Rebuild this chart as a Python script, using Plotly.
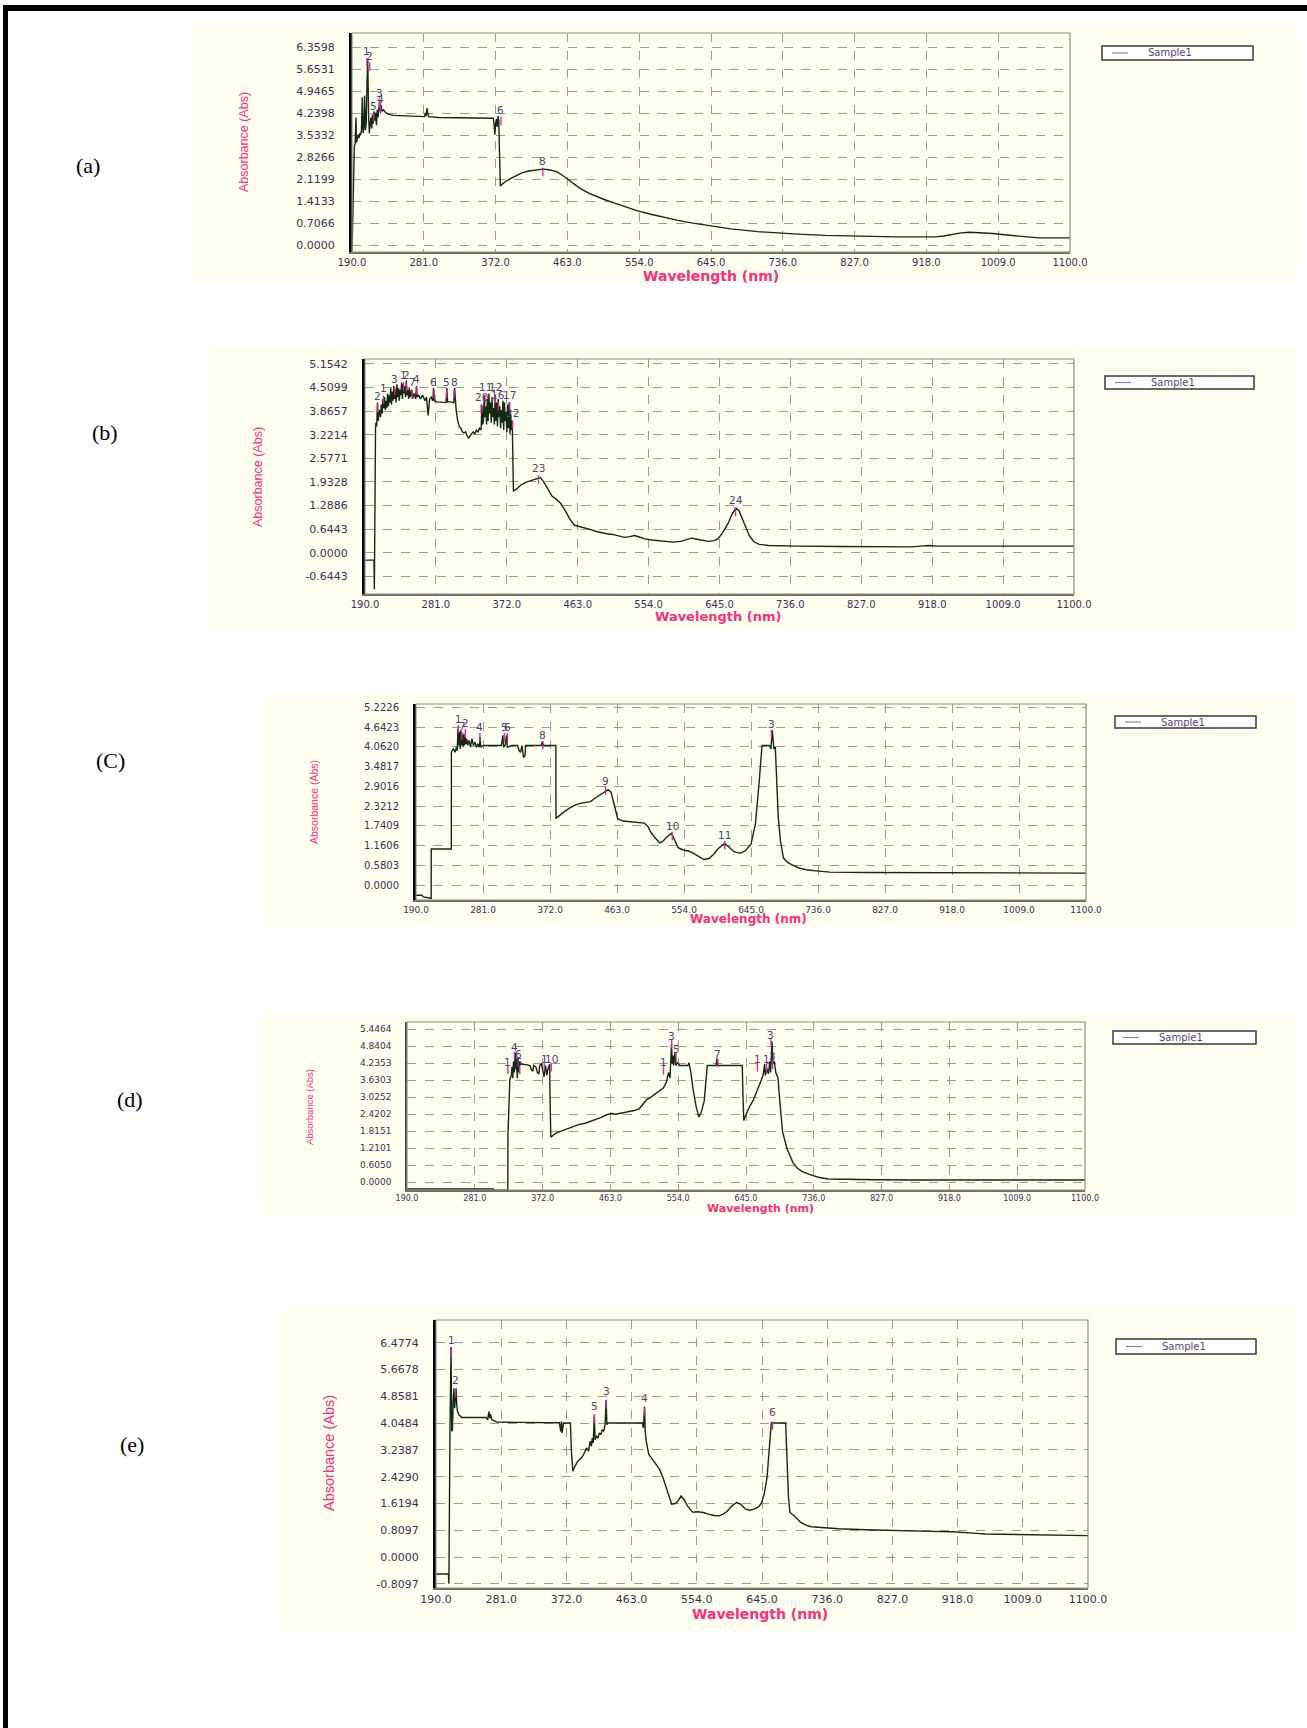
import plotly.graph_objects as go

W, H = 1307, 1728

# ---------------- data ----------------
x_tick_labels = ["190.0", "281.0", "372.0", "463.0", "554.0", "645.0",
                 "736.0", "827.0", "918.0", "1009.0", "1100.0"]

# (a)
a_wl = [190, 190.5, 191, 192, 193, 194, 195, 195.8, 197, 198, 199, 200, 201, 202, 203, 204, 205, 206, 207, 208,
        209, 210, 211, 212, 213, 214, 215, 216, 217, 218, 219, 220, 221, 222, 223, 224, 225, 226, 227, 228,
        230, 233, 237, 242, 250, 260, 275, 282, 283, 284, 285, 286, 287, 300, 330, 360, 369, 370, 371, 372,
        373, 374, 375, 376, 377, 378, 380, 385, 392, 400, 406, 414, 421, 428, 432, 440, 450, 458, 464, 472,
        479, 490, 500, 508, 520, 535, 552, 570, 585, 602, 620, 646, 670, 704, 730, 755, 790, 820, 850, 878,
        905, 929, 940, 951, 962, 973, 985, 1002, 1020, 1031, 1045, 1060, 1080, 1100]
a_abs = [-0.2, 0.5, 1.5, 2.6, 3.2, 3.25, 4.1, 3.3, 3.5, 3.55, 3.45, 3.6, 3.55, 3.7, 4.75, 3.6, 3.75, 4.8, 3.7, 3.9,
         5.2, 5.95, 4.2, 3.6, 3.9, 4.1, 3.75, 4.2, 3.9, 4.3, 4.0, 4.25, 3.85, 4.35, 4.1, 4.45, 4.65, 4.3, 4.5, 4.3,
         4.35, 4.25, 4.2, 4.17, 4.16, 4.15, 4.14, 4.13, 4.25, 4.15, 4.4, 4.2, 4.13, 4.1, 4.09, 4.08, 4.08, 3.9, 3.55, 3.9,
         4.05, 3.8, 4.15, 4.0, 2.8, 1.9, 1.95, 2.05, 2.15, 2.25, 2.33, 2.38, 2.41, 2.43, 2.44, 2.42, 2.35, 2.22, 2.1, 1.95,
         1.82, 1.67, 1.55, 1.48, 1.37, 1.24, 1.1, 0.98, 0.89, 0.8, 0.71, 0.6, 0.52, 0.43, 0.38, 0.35, 0.31, 0.29, 0.28, 0.26,
         0.26, 0.26, 0.29, 0.34, 0.39, 0.41, 0.40, 0.37, 0.32, 0.30, 0.26, 0.23, 0.23, 0.23]
a_peak_wl = [208.9, 212.5, 224.9, 226.3, 217.6, 378.8, 431.9]
a_peak_abs = [6.23, 6.09, 4.89, 4.71, 4.46, 4.34, 2.70]
a_peak_lbl = ["1", "2", "3", "4", "5", "6", "8"]
a_yticks = ["0.0000", "0.7066", "1.4133", "2.1199", "2.8266", "3.5332", "4.2398", "4.9465", "5.6531", "6.3598"]

# (b)
b_wl = [190, 200, 201.5, 202, 202.5, 203.5, 204, 205, 206, 207, 208, 209, 210, 211, 212, 213, 214, 215, 216, 217,
        218, 219, 220, 221, 222, 223, 224, 225, 226, 227, 228, 229, 230, 231, 232, 233, 234, 235, 236, 237,
        238, 239, 240, 241, 242, 243, 244, 245, 246, 247, 248, 250, 251, 253, 255, 256, 257, 259, 261, 264,
        267, 269, 271, 273, 275, 277, 278, 279, 282, 290, 294, 295, 296, 300, 304, 305, 306, 307, 309, 311,
        313, 315, 317, 319, 321, 323, 325, 327, 329, 331, 333, 335, 337, 339, 340, 341, 342, 343, 344, 345,
        346, 347, 348, 349, 350, 351, 352, 353, 354, 355, 356, 357, 358, 359, 360, 361, 362, 363, 364, 365,
        366, 367, 368, 369, 370, 371, 372, 373, 374, 375, 376, 377, 378, 379, 380, 380.5, 385, 390, 397, 404,
        410, 415, 419, 422, 426, 430, 436, 441, 447, 453, 459, 465, 470, 474, 480, 487, 493, 500, 508, 515,
        523, 530, 536, 542, 549, 558, 568, 577, 586, 595, 603, 609, 616, 624, 631, 638, 643, 649, 656, 661,
        666, 670, 674, 678, 683, 689, 696, 708, 725, 745, 800, 850, 892, 903, 914, 925, 936, 950, 980, 1010,
        1040, 1070, 1100]
b_abs = [-0.2, -0.2, -0.2, -1.0, 1.27, 3.4, 3.55, 3.45, 4.1, 3.6, 3.8, 3.9, 3.7, 4.05, 3.8, 4.2, 3.95, 4.25, 3.9, 4.15,
         3.95, 4.35, 4.0, 4.3, 4.1, 4.5, 4.05, 4.4, 4.15, 4.55, 4.2, 4.45, 4.1, 4.6, 4.25, 4.5, 4.15, 4.45, 4.3, 4.65,
         4.2, 4.6, 4.35, 4.55, 4.25, 4.7, 4.3, 4.45, 4.2, 4.5, 4.25, 4.45, 4.2, 4.35, 4.2, 4.55, 4.25, 4.3, 4.2, 4.3,
         4.15, 4.25, 3.75, 4.2, 4.25, 4.15, 4.5, 4.15, 4.12, 4.12, 4.1, 4.5, 4.12, 4.12, 4.1, 4.5, 4.1, 3.9, 3.6, 3.45,
         3.4, 3.3, 3.27, 3.3, 3.2, 3.12, 3.2, 3.25, 3.3, 3.25, 3.35, 3.3, 3.4, 3.35, 4.05, 3.5, 3.6, 4.3, 3.7, 4.0,
         3.5, 4.2, 3.6, 4.35, 3.8, 4.1, 3.55, 4.25, 3.7, 3.95, 3.5, 4.3, 3.6, 4.1, 3.45, 4.2, 3.7, 4.0, 3.4, 3.9,
         3.55, 4.15, 3.35, 4.1, 3.6, 3.85, 3.3, 4.05, 3.4, 4.1, 3.25, 3.8, 3.35, 3.6, 2.5, 1.68, 1.75, 1.85, 1.93, 1.98,
         2.03, 2.05, 1.95, 1.85, 1.7, 1.55, 1.45, 1.35, 1.15, 0.92, 0.75, 0.72, 0.7, 0.68, 0.63, 0.58, 0.55, 0.52, 0.5, 0.46,
         0.42, 0.44, 0.47, 0.43, 0.38, 0.35, 0.33, 0.31, 0.29, 0.31, 0.37, 0.4, 0.37, 0.33, 0.31, 0.33, 0.38, 0.55, 0.8, 1.05,
         1.22, 1.15, 0.95, 0.72, 0.48, 0.3, 0.23, 0.2, 0.19, 0.18, 0.17, 0.16, 0.16, 0.18, 0.2, 0.18, 0.18, 0.18, 0.19, 0.2,
         0.2, 0.19, 0.18]
b_peak_wl = [206.2, 213.6, 228.3, 239.4, 243.1, 250.5, 256.4, 278.5, 294.7, 304.3, 339.0, 344.1, 357.4, 361.0, 375.8, 379.5, 412.7, 665.6]
b_peak_abs = [4.27, 4.50, 4.74, 4.86, 4.84, 4.65, 4.74, 4.65, 4.65, 4.65, 4.25, 4.52, 4.52, 4.32, 4.32, 3.82, 2.32, 1.44]
b_peak_lbl = ["2", "1", "3", "1", "2", "7", "4", "6", "5", "8", "20", "11", "12", "16", "17", "22", "23", "24"]
b_yticks = ["-0.6443", "0.0000", "0.6443", "1.2886", "1.9328", "2.5771", "3.2214", "3.8657", "4.5099", "5.1542"]

# (C)
c_wl = [190, 198, 200, 208, 210.6, 210.7, 238, 238.1, 241, 243, 245, 246, 247, 248, 249, 250, 251, 252, 253, 254,
        255, 256, 257, 258, 259, 260, 262, 264, 266, 268, 270, 272, 274, 276, 277, 278, 281, 290, 300, 306,
        308, 309, 311, 313, 314, 320, 328, 330, 332, 334, 336, 338, 339, 345, 355, 360, 361.5, 363, 370, 380,
        380.1, 385, 391, 400, 406, 413, 420, 427, 433, 440, 447, 451, 455, 459, 464, 471, 479, 490, 500, 505,
        509, 515, 521, 526, 531, 537, 541, 546, 553, 560, 567, 574, 581, 588, 594, 601, 609, 615, 622, 630,
        637, 645, 651, 656, 660, 670, 672, 674, 676, 678, 680, 682, 685, 689, 694, 700, 710, 722, 737, 752,
        800, 850, 899, 950, 1000, 1050, 1100]
c_abs = [-0.3, -0.3, -0.35, -0.39, -0.39, 1.06, 1.06, 3.92, 4.0, 3.9, 4.05, 3.95, 4.6, 4.1, 4.5, 4.0, 4.55, 4.1, 4.4, 4.05,
         4.45, 4.1, 4.35, 4.15, 4.3, 4.1, 4.25, 4.05, 4.3, 4.1, 4.2, 4.05, 4.15, 4.05, 4.35, 4.05, 4.1, 4.1, 4.1, 4.1,
         4.4, 4.05, 4.1, 4.4, 4.05, 4.1, 4.1, 3.95, 3.9, 4.1, 3.75, 3.8, 4.1, 4.1, 4.1, 4.1, 4.22, 4.1, 4.1, 4.1,
         1.96, 2.05, 2.15, 2.28, 2.35, 2.4, 2.42, 2.45, 2.55, 2.65, 2.76, 2.8, 2.72, 2.4, 1.95, 1.88, 1.86, 1.85, 1.82, 1.72,
         1.55, 1.38, 1.24, 1.3, 1.42, 1.52, 1.35, 1.1, 1.03, 1.0, 0.93, 0.83, 0.75, 0.78, 0.9, 1.08, 1.22, 1.12, 0.98, 0.93,
         1.0, 1.2, 1.8, 3.0, 4.1, 4.1, 4.0, 4.55, 4.0, 4.06, 3.0, 2.0, 1.3, 0.8, 0.68, 0.6, 0.5, 0.44, 0.41, 0.38,
         0.37, 0.37, 0.37, 0.36, 0.36, 0.35, 0.35]
c_peak_wl = [247.4, 257.0, 252.5, 276.8, 309.9, 314.3, 362.2, 447.5, 538.0, 609.4, 672.6]
c_peak_abs = [4.87, 4.75, 4.67, 4.63, 4.63, 4.63, 4.40, 3.07, 1.73, 1.46, 4.72]
c_peak_lbl = ["1", "2", "7", "4", "5", "6", "8", "9", "10", "11", "3"]
c_yticks = ["0.0000", "0.5803", "1.1606", "1.7409", "2.3212", "2.9016", "3.4817", "4.0620", "4.6423", "5.2226"]

# (d)
d_wl = [190, 306, 306.5, 325.3, 325.5, 328, 330, 331, 332, 333, 334, 335.5, 336.5, 337, 338, 339, 340, 341, 342, 346,
        350, 355, 357, 359, 360, 363, 365, 367, 368, 370.5, 372, 374, 376, 377.6, 379, 381.5, 382, 383, 390, 400,
        410, 420, 429, 440, 450, 458, 465, 470, 476, 485, 495, 502, 508, 512, 516, 521, 526, 530, 534, 538,
        541, 543, 545, 546, 547, 548, 549.5, 551, 553, 556, 563, 567, 568.5, 571, 574, 578, 581.7, 585, 589, 591,
        593, 605, 606, 607, 620, 630, 640, 641, 642, 645, 650, 654.5, 660, 665, 668, 670, 671, 673, 675, 677,
        678, 679, 680, 681, 683, 685, 688, 690, 694, 700, 708, 714, 720, 730, 742, 755, 778, 820, 865, 950,
        1020, 1100]
d_abs = [-0.24, -0.24, -0.28, -0.28, 1.67, 3.64, 3.8, 4.1, 3.7, 4.3, 3.9, 4.6, 4.0, 4.4, 3.7, 4.45, 3.9, 4.3, 4.2, 4.2,
         4.18, 4.15, 4.0, 3.95, 4.15, 4.1, 3.9, 3.85, 4.15, 4.2, 4.0, 3.75, 4.15, 3.8, 4.0, 4.2, 3.0, 1.6, 1.75, 1.85,
         1.95, 2.05, 2.1, 2.2, 2.3, 2.4, 2.45, 2.42, 2.45, 2.5, 2.55, 2.62, 2.8, 2.95, 3.0, 3.1, 3.2, 3.28, 3.35, 3.55,
         3.9, 3.7, 4.9, 4.2, 4.5, 4.15, 4.6, 4.15, 4.25, 4.15, 4.15, 4.15, 4.25, 3.9, 3.3, 2.7, 2.32, 2.5, 2.9, 3.5,
         4.15, 4.15, 4.4, 4.15, 4.15, 4.15, 4.15, 3.0, 2.2, 2.4, 2.7, 2.9, 3.3, 3.6, 3.8, 4.2, 3.8, 4.05, 3.85, 4.3,
         3.9, 4.6, 5.0, 4.2, 4.3, 3.9, 3.7, 3.0, 1.8, 1.2, 0.7, 0.5, 0.39, 0.28, 0.18, 0.12, 0.1, 0.09, 0.08, 0.08,
         0.08, 0.08]
d_peak_wl = [334.1, 339.2, 325.4, 341.4, 374.2, 383.6, 545.3, 551.1, 534.3, 607.1, 660.3, 672.7, 680.7, 678.5]
d_peak_abs = [4.79, 4.57, 4.29, 4.29, 4.38, 4.38, 5.21, 4.73, 4.27, 4.55, 4.38, 4.38, 4.47, 5.24]
d_peak_lbl = ["4", "6", "1", "5", "1", "10", "3", "5", "1", "7", "1", "1", "3", "3"]
d_yticks = ["0.0000", "0.6050", "1.2101", "1.8151", "2.4202", "3.0252", "3.6303", "4.2353", "4.8404", "5.4464"]

# (e)
e_wl = [190, 207.4, 208, 208.7, 209.5, 211, 212, 213, 214, 215, 216, 217, 218, 219, 220, 222, 226, 240, 260, 262,
        263, 264, 265, 266, 268, 272, 275.5, 300, 330, 362, 363, 364, 365, 366, 368, 370, 377.6, 379, 381, 384,
        388, 393, 396, 400, 403, 405, 407, 408, 409.5, 411, 412, 414, 416, 418, 420, 422, 424, 426, 427.5, 428.5,
        430, 478, 479.5, 481, 482, 483.5, 487, 494, 502, 506, 510, 515, 519, 524, 528, 532, 536, 541, 548, 555,
        563, 570, 578, 585, 591, 596, 603, 609.5, 615, 622, 628, 634, 640, 644, 648, 652, 655, 658, 678, 680,
        682, 684, 690, 699, 707, 714, 730, 752, 790, 828, 860, 880, 910, 933.5, 945, 956, 1000, 1032, 1060, 1100]
e_abs = [-0.51, -0.51, -0.8, 3.79, 3.85, 6.35, 3.8, 3.85, 4.7, 5.1, 4.5, 4.7, 5.1, 4.6, 4.4, 4.3, 4.22, 4.22, 4.22, 4.15,
         4.35, 4.4, 4.2, 4.32, 4.15, 4.1, 4.08, 4.07, 4.07, 4.06, 3.95, 3.8, 4.1, 3.75, 4.05, 4.05, 4.05, 3.2, 2.6, 2.75,
         2.9, 3.0, 3.1, 3.3, 3.2, 3.5, 3.35, 3.6, 3.45, 4.3, 3.55, 3.65, 3.6, 3.75, 3.7, 3.85, 3.8, 4.0, 4.75, 4.0,
         4.05, 4.05, 3.9, 4.55, 3.8, 3.5, 3.1, 2.9, 2.65, 2.45, 2.2, 1.85, 1.6, 1.62, 1.7, 1.85, 1.75, 1.55, 1.36, 1.37,
         1.35, 1.3, 1.26, 1.25, 1.3, 1.38, 1.55, 1.65, 1.6, 1.45, 1.42, 1.45, 1.52, 1.62, 1.9, 2.4, 3.2, 4.05, 4.05, 2.8,
         1.8, 1.35, 1.25, 1.05, 0.96, 0.92, 0.89, 0.86, 0.83, 0.8, 0.79, 0.78, 0.77, 0.75, 0.72, 0.7, 0.69, 0.68, 0.66, 0.65]
e_peak_wl = [211.2, 217.2, 427.5, 410.9, 481.2, 659.7]
e_peak_abs = [6.56, 5.35, 5.02, 4.58, 4.80, 4.38]
e_peak_lbl = ["1", "2", "3", "5", "4", "6"]
e_yticks = ["-0.8097", "0.0000", "0.8097", "1.6194", "2.4290", "3.2387", "4.0484", "4.8581", "5.6678", "6.4774"]

series_name = "Sample1"
panel_tags = ["(a)", "(b)", "(C)", "(d)", "(e)"]

# ---------------- layout (pixel geometry) ----------------
panels = [
    dict(wl=a_wl, ab=a_abs, pw=a_peak_wl, pa=a_peak_abs, pl=a_peak_lbl, yt=a_yticks,
         bg=(194, 22, 1298, 284), plot=(352, 33, 1070, 252), yr=(-0.225, 6.82), fs=10, yfs_t=11, tfs=14,
         leg=(1102, 46, 1253, 60), tag=(88, 165), ylab=(244, 142, 12.5), xlab=(711, 276),
         leftcol="#000000", leftw=3),
    dict(wl=b_wl, ab=b_abs, pw=b_peak_wl, pa=b_peak_abs, pl=b_peak_lbl, yt=b_yticks,
         bg=(209, 347, 1296, 628), plot=(365, 359, 1074, 594), yr=(-1.126, 5.29), fs=10, yfs_t=11, tfs=13,
         leg=(1105, 376, 1254, 389), tag=(105, 432), ylab=(258, 477, 12.5), xlab=(718, 617),
         leftcol="#000000", leftw=3),
    dict(wl=c_wl, ab=c_abs, pw=c_peak_wl, pa=c_peak_abs, pl=c_peak_lbl, yt=c_yticks,
         bg=(264, 694, 1296, 926), plot=(416, 704, 1086, 900), yr=(-0.44, 5.32), fs=9, yfs_t=10, tfs=12,
         leg=(1115, 716, 1256, 728), tag=(110, 760), ylab=(314, 802, 10.5), xlab=(749, 919),
         leftcol="#000000", leftw=3),
    dict(wl=d_wl, ab=d_abs, pw=d_peak_wl, pa=d_peak_abs, pl=d_peak_lbl, yt=d_yticks,
         bg=(260, 1014, 1296, 1216), plot=(407, 1022, 1085, 1190), yr=(-0.273, 5.695), fs=8, yfs_t=9, tfs=11,
         leg=(1113, 1031, 1256, 1044), tag=(130, 1099), ylab=(309, 1107, 9.5), xlab=(760, 1208),
         leftcol="#444444", leftw=1.5),
    dict(wl=e_wl, ab=e_abs, pw=e_peak_wl, pa=e_peak_abs, pl=e_peak_lbl, yt=e_yticks,
         bg=(281, 1309, 1296, 1631), plot=(436, 1320, 1088, 1588), yr=(-0.931, 7.163), fs=11, yfs_t=11, tfs=14,
         leg=(1116, 1339, 1256, 1354), tag=(132, 1444), ylab=(329, 1453, 14.5), xlab=(760, 1614),
         leftcol="#000000", leftw=3),
]

def px(x):
    return x / W

def py(y):
    return 1 - y / H

LINE_COL = "#152915"
TICK_COL = "#3b2f55"
PINK = "#ff2d7a"
MAG = "#e0209a"
PEAK_TXT = "#4d3f6f"

fig = go.Figure()
shapes = []
annotations = []
layout_extra = {}

# page frame
shapes.append(dict(type="rect", xref="paper", yref="paper", x0=px(3), x1=1.0, y0=py(11), y1=py(5),
                   fillcolor="black", line=dict(width=0), layer="below"))
shapes.append(dict(type="rect", xref="paper", yref="paper", x0=px(3), x1=px(8), y0=0, y1=py(5),
                   fillcolor="black", line=dict(width=0), layer="below"))

x_tick_vals = [float(t) for t in x_tick_labels]

for i, p in enumerate(panels, start=1):
    xa = "xaxis" if i == 1 else f"xaxis{i}"
    ya = "yaxis" if i == 1 else f"yaxis{i}"
    xr = "x" if i == 1 else f"x{i}"
    yr_ = "y" if i == 1 else f"y{i}"
    L, T, R, B = p["plot"]

    bx0, by0, bx1, by1 = p["bg"]
    shapes.append(dict(type="rect", xref="paper", yref="paper", x0=px(bx0), x1=px(bx1), y0=py(by1), y1=py(by0),
                       fillcolor="#fffff0", line=dict(width=0), layer="below"))
    shapes.append(dict(type="rect", xref=f"{xr} domain", yref=f"{yr_} domain", x0=0, x1=1, y0=0, y1=1,
                       line=dict(color="#8c8c8c", width=1.2), layer="above"))

    fig.add_trace(go.Scatter(x=p["wl"], y=p["ab"], mode="lines", name=series_name,
                             line=dict(color=LINE_COL, width=1.4), xaxis=xr, yaxis=yr_,
                             showlegend=False))

    span = p["yr"][1] - p["yr"][0]
    fig.add_trace(go.Scatter(x=p["pw"], y=[v - 0.05 * span for v in p["pa"]], mode="markers",
                             marker=dict(symbol="line-ns", size=6, line=dict(color=MAG, width=1.3)),
                             xaxis=xr, yaxis=yr_, showlegend=False, hoverinfo="skip"))
    for xw, ya_v, lab in zip(p["pw"], p["pa"], p["pl"]):
        annotations.append(dict(x=xw, y=ya_v, xref=xr, yref=yr_, text=lab, showarrow=False,
                                xanchor="center", yanchor="middle",
                                font=dict(family="DejaVu Sans", size=10.5, color=PEAK_TXT)))

    layout_extra[xa] = dict(domain=[px(L), px(R)], range=[190, 1100], anchor=yr_, automargin=False,
                            tickvals=x_tick_vals, ticktext=x_tick_labels, tickangle=0,
                            showgrid=True, gridcolor="#9a9a9a", griddash="dash", gridwidth=1,
                            zeroline=False, showline=True, linecolor="#6e6e6e", linewidth=1.5,
                            ticks="", ticklabelstandoff=0,
                            tickfont=dict(family="DejaVu Sans", size=p["fs"], color=TICK_COL))
    layout_extra[ya] = dict(domain=[py(B), py(T)], range=list(p["yr"]), anchor=xr, automargin=False,
                            tickvals=[float(t) for t in p["yt"]], ticktext=p["yt"],
                            showgrid=True, gridcolor="#9a9a9a", griddash="dash", gridwidth=1,
                            zeroline=False, showline=True, linecolor=p["leftcol"], linewidth=p["leftw"],
                            ticks="", ticklabelstandoff=12,
                            tickfont=dict(family="DejaVu Sans", size=p["yfs_t"], color=TICK_COL))

    # legend box: "Sample1"
    lx0, ly0, lx1, ly1 = p["leg"]
    lmid = (ly0 + ly1) / 2
    shapes.append(dict(type="rect", xref="paper", yref="paper", x0=px(lx0), x1=px(lx1), y0=py(ly1), y1=py(ly0),
                       fillcolor="white", line=dict(color="#3a3a3a", width=1.5), layer="above"))
    shapes.append(dict(type="line", xref="paper", yref="paper", x0=px(lx0 + 10), x1=px(lx0 + 26),
                       y0=py(lmid), y1=py(lmid), line=dict(color="#8a8a8a", width=1.2), layer="above"))
    annotations.append(dict(x=px(lx0 + 44), y=py(lmid), xref="paper", yref="paper", text=series_name,
                            showarrow=False, xanchor="left", yanchor="middle",
                            font=dict(family="DejaVu Sans", size=10, color="#5a3f80")))

    xlx, xly = p["xlab"]
    annotations.append(dict(x=px(xlx), y=py(xly), xref="paper", yref="paper", text="<b>Wavelength (nm)</b>",
                            showarrow=False, xanchor="center", yanchor="middle",
                            font=dict(family="DejaVu Sans", size=p["tfs"], color=PINK)))
    ylx, yly, yfs = p["ylab"]
    annotations.append(dict(x=px(ylx), y=py(yly), xref="paper", yref="paper", text="Absorbance (Abs)",
                            showarrow=False, textangle=-90, xanchor="center", yanchor="middle",
                            font=dict(family="Liberation Sans Narrow, Liberation Sans, Arial", size=yfs, color=PINK)))
    tx, ty = p["tag"]
    annotations.append(dict(x=px(tx), y=py(ty), xref="paper", yref="paper", text=panel_tags[i - 1],
                            showarrow=False, xanchor="center", yanchor="middle",
                            font=dict(family="Liberation Serif, Times New Roman", size=22, color="black")))

fig.update_layout(width=W, height=H, margin=dict(l=0, r=0, t=0, b=0, autoexpand=False),
                  paper_bgcolor="white", plot_bgcolor="white", showlegend=False,
                  shapes=shapes, annotations=annotations, **layout_extra)

fig.write_html("out.html", config={"displayModeBar": False},
               post_script="document.body.style.margin='0';")
